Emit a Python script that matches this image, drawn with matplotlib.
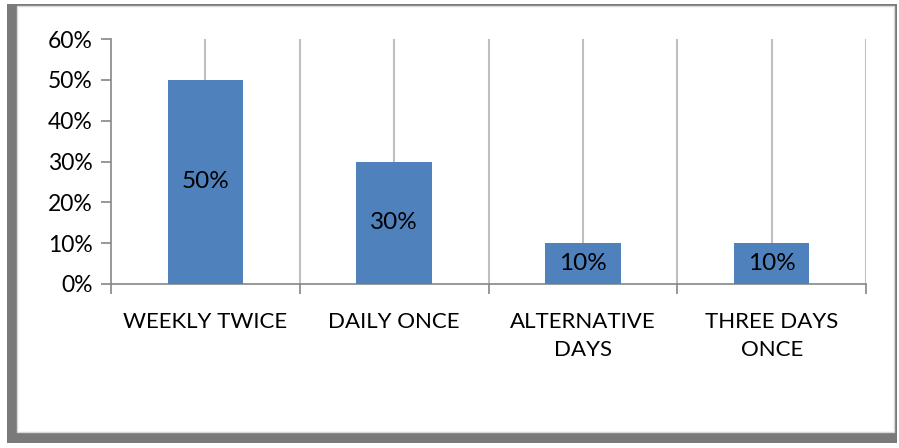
import matplotlib.pyplot as plt
from matplotlib.patches import Rectangle
from matplotlib.ticker import PercentFormatter, MultipleLocator

categories = ["WEEKLY TWICE", "DAILY ONCE", "ALTERNATIVE\nDAYS", "THREE DAYS\nONCE"]
values = [50, 30, 10, 10]
data_labels = ["50%", "30%", "10%", "10%"]

plt.rcParams['font.family'] = ['Lato', 'DejaVu Sans']

fig = plt.figure(figsize=(8.99, 4.48), dpi=100)
W, H = 899, 448

# chart frame with a bevel-like shadow on left and bottom
def px(x, y, w, h):
    return (x / W, 1 - (y + h) / H, w / W, h / H)

x0, y0, w0, h0 = px(7, 4, 890, 439)
fig.patches.append(Rectangle((x0, y0), w0, h0, transform=fig.transFigure,
                             facecolor='#7a7a7a', edgecolor='none', zorder=0))
x1, y1, w1, h1 = px(17, 6, 877, 426)
fig.patches.append(Rectangle((x1, y1), w1, h1, transform=fig.transFigure,
                             facecolor='white', edgecolor='#d9d9d9', lw=1, zorder=1))

ax = fig.add_axes([111 / W, 1 - 284 / H, (866 - 111) / W, (284 - 39) / H])
ax.set_zorder(2)
ax.patch.set_visible(False)

x = range(len(categories))
bars = ax.bar(x, values, width=0.4, color='#4F81BD', zorder=3)
for b, lab in zip(bars, data_labels):
    ax.text(b.get_x() + b.get_width() / 2, b.get_height() / 2, lab,
            ha='center', va='center', fontsize=17.5, color='black', zorder=4)

ax.set_xlim(-0.5, len(categories) - 0.5)
ax.set_ylim(0, 60)
ax.yaxis.set_major_locator(MultipleLocator(10))
ax.yaxis.set_major_formatter(PercentFormatter(decimals=0))

# vertical gridlines at category centres and boundaries
for g in [i * 0.5 - 0.5 for i in range(1, 2 * len(categories) + 1)]:
    ax.axvline(g, color='#bfbfbf', lw=1.5, zorder=1)

ax.set_xticks([i + 0.5 for i in range(-1, len(categories))])
ax.set_xticklabels([])
ax.set_xticks(list(x), minor=True)
ax.set_xticklabels(categories, minor=True, fontsize=16, linespacing=1.5)
ax.tick_params(axis='x', which='minor', length=0, pad=20)
ax.tick_params(axis='x', which='major', length=7, color='#868686', width=1.2)
ax.tick_params(axis='y', length=7, color='#868686', width=1.2, labelsize=16.5, pad=6)

for s in ['top', 'right']:
    ax.spines[s].set_visible(False)
for s in ['left', 'bottom']:
    ax.spines[s].set_color('#868686')
    ax.spines[s].set_linewidth(1.2)

fig.savefig("out.png", dpi=100)
